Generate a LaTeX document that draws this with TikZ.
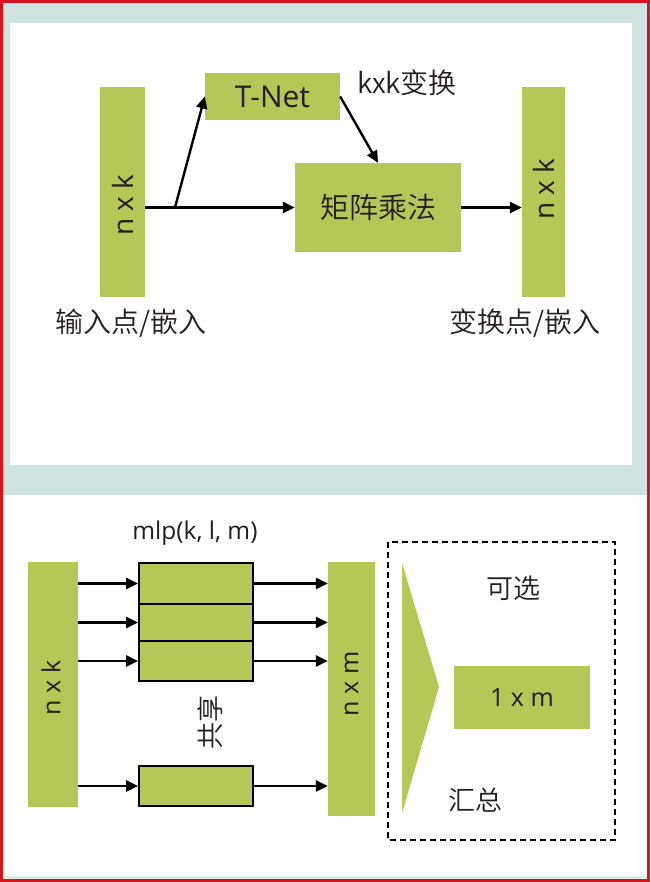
\documentclass[tikz,border=0pt]{standalone}
\usepackage{fontspec}
\setmainfont{Open Sans}
\newfontfamily\cjk{Noto Sans CJK SC}[UprightFont={* DemiLight}]
\usetikzlibrary{arrows.meta}
\definecolor{olive}{HTML}{B4C757}
\definecolor{teal0}{HTML}{CFE4E1}
\definecolor{redb}{HTML}{D8141E}
\definecolor{ink}{HTML}{231F20}
\tikzset{
  gbox/.style={fill=olive, draw=none, inner sep=0pt, text=ink},
  mbox/.style={fill=olive, draw=black, line width=1.7pt, inner sep=0pt, minimum width=114pt},
  arr/.style={line width=2.4pt, -{Triangle[length=12pt,width=11pt]}},
  lat/.style={text=ink, inner sep=0pt},
  cjt/.style={text=ink, inner sep=0pt, font=\cjk\fontsize{27}{30}\selectfont},
}
\begin{document}
\begin{tikzpicture}[x=1pt,y=-1pt]
\useasboundingbox (0,0) rectangle (650,882);
% frame and background
\fill[redb] (0,0) rectangle (650,882);
\fill[white] (3,3) rectangle (647,879);
\fill[teal0] (3,3) rectangle (647,495);
\fill[white] (10,23) rectangle (632,465);
\fill[teal0!70!white] (3,876) rectangle (647,879);

% ---------- top ----------
\node[gbox, minimum width=45pt, minimum height=210pt] (inL) at (122.5,192) {};
\node[lat, rotate=90, font=\fontsize{28}{30}\selectfont] at (122.5,205) {n x k};
\node[gbox, minimum width=135pt, minimum height=47pt, font=\fontsize{30}{32}\selectfont] (tnet) at (272.5,96.5) {T-Net};
\node[gbox, minimum width=166pt, minimum height=89pt, font=\cjk\fontsize{29}{32}\selectfont] (mat) at (378,207.5) {矩阵乘法};
\node[gbox, minimum width=43pt, minimum height=210pt] (outR) at (543.5,192) {};
\node[lat, rotate=90, font=\fontsize{28}{30}\selectfont] at (543.5,189) {n x k};

\coordinate (br) at (175,207.5);
\draw[arr] (inL.east |- mat.west) -- (mat.west);
\draw[arr] (br) -- (tnet.west);
\draw[arr] (tnet.east) -- (mat.north);
\draw[arr] (mat.east) -- (mat.east -| outR.west);

\node[cjt, font=\cjk\fontsize{28}{32}\selectfont] (kxk) at (407,83) {kxk变换};
\node[cjt, font=\cjk\fontsize{28}{32}\selectfont] (inlab) at (131,323) {输入点/嵌入};
\node[cjt, font=\cjk\fontsize{28}{32}\selectfont] (outlab) at (525,323) {变换点/嵌入};

% ---------- bottom ----------
\node[gbox, minimum width=50pt, minimum height=245pt] (inB) at (53,684.5) {};
\node[lat, rotate=90, font=\fontsize{25}{28}\selectfont] at (51,688) {n x k};
\node[gbox, minimum width=47pt, minimum height=254pt] (outB) at (351.5,689) {};
\node[lat, rotate=90, font=\fontsize{25}{28}\selectfont] at (351.5,684) {n x m};

\node[mbox, minimum height=41pt] (m1) at (196,583.5) {};
\node[mbox, minimum height=37pt] (m2) at (196,622.5) {};
\node[mbox, minimum height=40pt] (m3) at (196,661) {};
\node[mbox, minimum height=40pt] (m4) at (196,786) {};

\foreach \m in {m1,m2,m3,m4}{
  \draw[arr] (inB.east |- \m.west) -- (\m.west);
  \draw[arr] (\m.east) -- (\m.east -| outB.west);
}

\node[lat, font=\fontsize{24.5}{27}\selectfont] (mlp) at (195,533) {mlp(k, l, m)};
\node[cjt, rotate=90] (share) at (210,722) {共享};

\draw[line width=2pt, dash pattern=on 6pt off 4pt] (388,542) rectangle (615,840);
\fill[olive] (402,563) -- (439,687) -- (402,813) -- cycle;
\node[gbox, minimum width=136pt, minimum height=63pt, font=\fontsize{25}{28}\selectfont] (one) at (522,697.5) {1 x m};
\node[cjt] (opt) at (513,588) {可选};
\node[cjt] (pool) at (475,800) {汇总};
\end{tikzpicture}
\end{document}
